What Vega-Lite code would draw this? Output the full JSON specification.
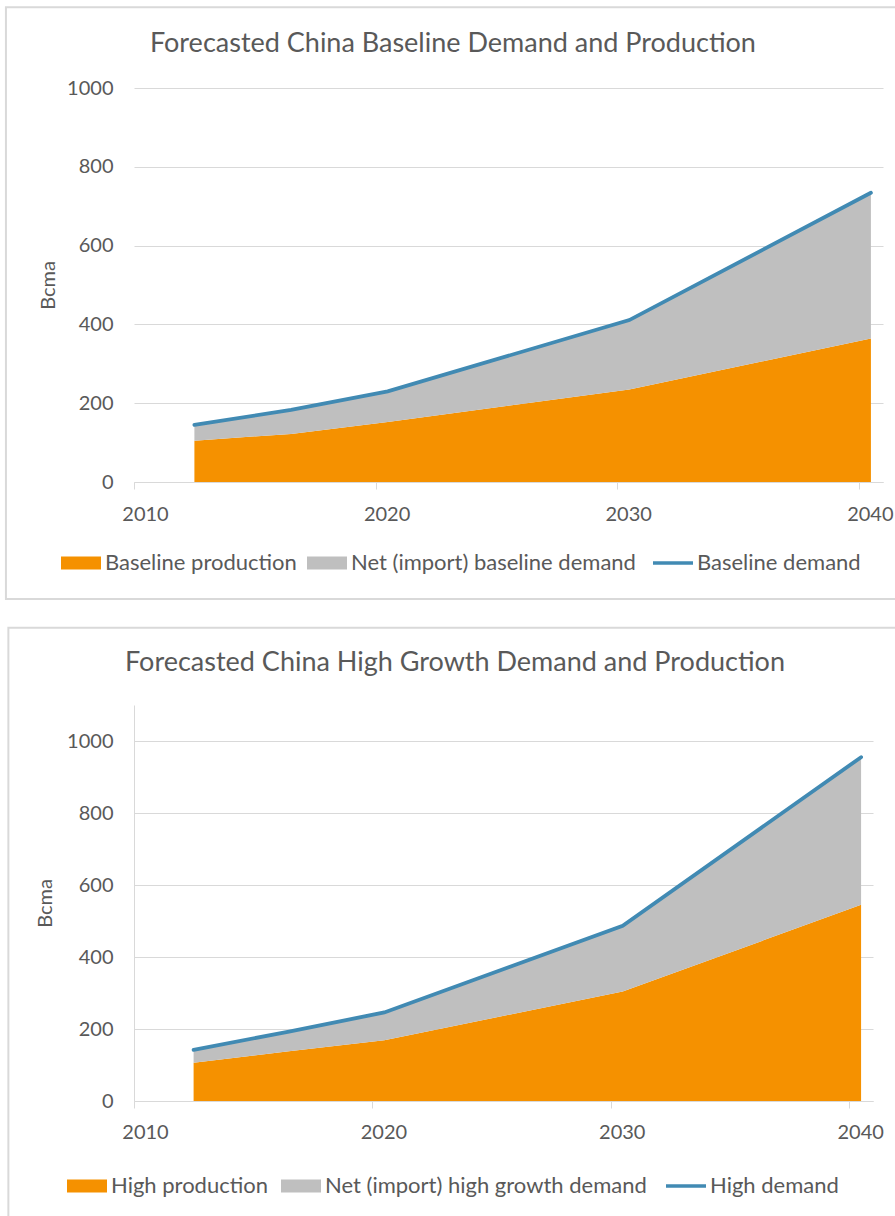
{
  "$schema": "https://vega.github.io/schema/vega-lite/v6.json",
  "background": "white",
  "padding": {"left": 4, "top": 6, "right": 0, "bottom": 0},
  "config": {
    "view": {"stroke": null},
    "font": "Lato",
    "axis": {
      "labelFont": "Lato",
      "labelFontSize": 20,
      "labelColor": "#595959",
      "titleFont": "Lato",
      "titleFontSize": 20,
      "titleFontWeight": "normal",
      "titleColor": "#595959",
      "gridColor": "#D9D9D9",
      "domainColor": "#D9D9D9",
      "tickColor": "#D9D9D9"
    },
    "title": {
      "font": "Lato",
      "fontSize": 27,
      "fontWeight": "normal",
      "color": "#595959",
      "anchor": "middle",
      "frame": "bounds",
      "offset": -52
    },
    "concat": {"spacing": 25}
  },
  "datasets": {
    "baseline": [
      {"year": 2012.5, "series": "Baseline production", "value": 105},
      {"year": 2016.5, "series": "Baseline production", "value": 122},
      {"year": 2020.5, "series": "Baseline production", "value": 152},
      {"year": 2030.5, "series": "Baseline production", "value": 235},
      {"year": 2040.5, "series": "Baseline production", "value": 364},
      {"year": 2012.5, "series": "Net (import) baseline demand", "value": 40},
      {"year": 2016.5, "series": "Net (import) baseline demand", "value": 61},
      {"year": 2020.5, "series": "Net (import) baseline demand", "value": 78},
      {"year": 2030.5, "series": "Net (import) baseline demand", "value": 176},
      {"year": 2040.5, "series": "Net (import) baseline demand", "value": 370},
      {"year": 2012.5, "series": "Baseline demand", "value": 145},
      {"year": 2016.5, "series": "Baseline demand", "value": 183},
      {"year": 2020.5, "series": "Baseline demand", "value": 230},
      {"year": 2030.5, "series": "Baseline demand", "value": 411},
      {"year": 2040.5, "series": "Baseline demand", "value": 734}
    ],
    "high": [
      {"year": 2012.5, "series": "High production", "value": 106},
      {"year": 2016.5, "series": "High production", "value": 138},
      {"year": 2020.5, "series": "High production", "value": 169},
      {"year": 2030.5, "series": "High production", "value": 304},
      {"year": 2040.5, "series": "High production", "value": 545},
      {"year": 2012.5, "series": "Net (import) high growth demand", "value": 36},
      {"year": 2016.5, "series": "Net (import) high growth demand", "value": 55},
      {"year": 2020.5, "series": "Net (import) high growth demand", "value": 77},
      {"year": 2030.5, "series": "Net (import) high growth demand", "value": 183},
      {"year": 2040.5, "series": "Net (import) high growth demand", "value": 410},
      {"year": 2012.5, "series": "High demand", "value": 142},
      {"year": 2016.5, "series": "High demand", "value": 193},
      {"year": 2020.5, "series": "High demand", "value": 246},
      {"year": 2030.5, "series": "High demand", "value": 487},
      {"year": 2040.5, "series": "High demand", "value": 955}
    ]
  },
  "vconcat": [
    {
      "width": 749,
      "height": 394,
      "title": {"text": "Forecasted China Baseline Demand and Production"},
      "layer": [
        {
          "data": {"values": [{"panel": "baseline"}]},
          "mark": {"type": "rect", "clip": false, "fill": null, "stroke": "#D9D9D9", "strokeWidth": 2},
          "encoding": {
            "x": {"datum": 2004.7, "type": "quantitative"},
            "x2": {"datum": 2041.7},
            "y": {"datum": 1205, "type": "quantitative"},
            "y2": {"datum": -297}
          }
        },
        {
          "data": {"name": "baseline"},
          "transform": [{"filter": {"field": "series", "oneOf": ["Baseline production", "Net (import) baseline demand"]}}],
          "mark": {"type": "area", "interpolate": "linear"},
          "encoding": {
            "x": {
              "field": "year", "type": "quantitative",
              "scale": {"domain": [2010, 2041], "nice": false, "zero": false},
              "axis": {"values": [2010, 2020, 2030, 2040], "format": "d", "title": null, "grid": false, "domain": true, "ticks": true, "tickSize": 7, "labelPadding": 15, "labelOffset": 11, "labelFlush": false}
            },
            "y": {
              "field": "value", "type": "quantitative", "stack": "zero",
              "scale": {"domain": [0, 1000], "nice": false},
              "axis": {"values": [0, 200, 400, 600, 800, 1000], "format": "d", "title": "Bcma", "grid": true, "domain": false, "ticks": false, "labelPadding": 21, "titlePadding": 8}
            },
            "order": {"field": "series", "sort": "ascending"},
            "color": {
              "field": "series", "type": "nominal",
              "scale": {"domain": ["Baseline production", "Net (import) baseline demand", "Baseline demand"], "range": ["#F59100", "#BFBFBF", "#418AB3"]},
              "legend": {
                "orient": "none", "legendX": -64, "legendY": 464, "direction": "horizontal", "title": null,
                "labelFont": "Lato", "labelFontSize": 22, "labelColor": "#595959", "labelLimit": 500,
                "symbolSize": 1600, "labelOffset": 13, "columnPadding": 10, "padding": 0,
                "encode": {"symbols": {"update": {
                  "shape": {"signal": "datum.index === 2 ? 'M-1,0H1' : 'M-1,-0.33H1V0.33H-1Z'"},
                  "fill": {"signal": "datum.index === 2 ? 'transparent' : ['#F59100', '#BFBFBF', '#418AB3'][datum.index]"},
                  "stroke": {"signal": "datum.index === 2 ? '#418AB3' : 'transparent'"},
                  "strokeWidth": {"signal": "datum.index === 2 ? 3.5 : 0"},
                  "opacity": {"value": 1}
                }}}
              }
            }
          }
        },
        {
          "data": {"name": "baseline"},
          "transform": [{"filter": {"field": "series", "equal": "Baseline demand"}}],
          "mark": {"type": "line", "strokeWidth": 3.8, "strokeCap": "round"},
          "encoding": {
            "x": {"field": "year", "type": "quantitative"},
            "y": {"field": "value", "type": "quantitative"},
            "color": {"field": "series", "type": "nominal"}
          }
        }
      ]
    },
    {
      "width": 739,
      "height": 396,
      "title": {"text": "Forecasted China High Growth Demand and Production", "offset": -50},
      "layer": [
        {
          "data": {"values": [{"panel": "high"}]},
          "mark": {"type": "rect", "clip": false, "fill": null, "stroke": "#D9D9D9", "strokeWidth": 2},
          "encoding": {
            "x": {"datum": 2004.73, "type": "quantitative"},
            "x2": {"datum": 2042.2},
            "y": {"datum": 1314.7, "type": "quantitative"},
            "y2": {"datum": -360}
          }
        },
        {
          "data": {"name": "high"},
          "transform": [{"filter": {"field": "series", "oneOf": ["High production", "Net (import) high growth demand"]}}],
          "mark": {"type": "area", "interpolate": "linear"},
          "encoding": {
            "x": {
              "field": "year", "type": "quantitative",
              "scale": {"domain": [2010, 2041], "nice": false, "zero": false},
              "axis": {"values": [2010, 2020, 2030, 2040], "format": "d", "title": null, "grid": false, "domain": true, "ticks": true, "tickSize": 7, "labelPadding": 14, "labelOffset": 11, "labelFlush": false}
            },
            "y": {
              "field": "value", "type": "quantitative", "stack": "zero",
              "scale": {"domain": [0, 1100], "nice": false},
              "axis": {"values": [0, 200, 400, 600, 800, 1000], "format": "d", "title": "Bcma", "grid": true, "domain": true, "ticks": false, "labelPadding": 21, "titlePadding": 11}
            },
            "order": {"field": "series", "sort": "ascending"},
            "color": {
              "field": "series", "type": "nominal",
              "scale": {"domain": ["High production", "Net (import) high growth demand", "High demand"], "range": ["#F59100", "#BFBFBF", "#418AB3"]},
              "legend": {
                "orient": "none", "legendX": -58, "legendY": 470, "direction": "horizontal", "title": null,
                "labelFont": "Lato", "labelFontSize": 22, "labelColor": "#595959", "labelLimit": 500,
                "symbolSize": 1600, "labelOffset": 13, "columnPadding": 12, "padding": 0,
                "encode": {"symbols": {"update": {
                  "shape": {"signal": "datum.index === 2 ? 'M-1,0H1' : 'M-1,-0.33H1V0.33H-1Z'"},
                  "fill": {"signal": "datum.index === 2 ? 'transparent' : ['#F59100', '#BFBFBF', '#418AB3'][datum.index]"},
                  "stroke": {"signal": "datum.index === 2 ? '#418AB3' : 'transparent'"},
                  "strokeWidth": {"signal": "datum.index === 2 ? 3.5 : 0"},
                  "opacity": {"value": 1}
                }}}
              }
            }
          }
        },
        {
          "data": {"name": "high"},
          "transform": [{"filter": {"field": "series", "equal": "High demand"}}],
          "mark": {"type": "line", "strokeWidth": 3.8, "strokeCap": "round"},
          "encoding": {
            "x": {"field": "year", "type": "quantitative"},
            "y": {"field": "value", "type": "quantitative"},
            "color": {"field": "series", "type": "nominal"}
          }
        }
      ]
    }
  ],
  "resolve": {
    "scale": {"color": "independent", "x": "independent", "y": "independent"},
    "legend": {"color": "independent"}
  }
}
